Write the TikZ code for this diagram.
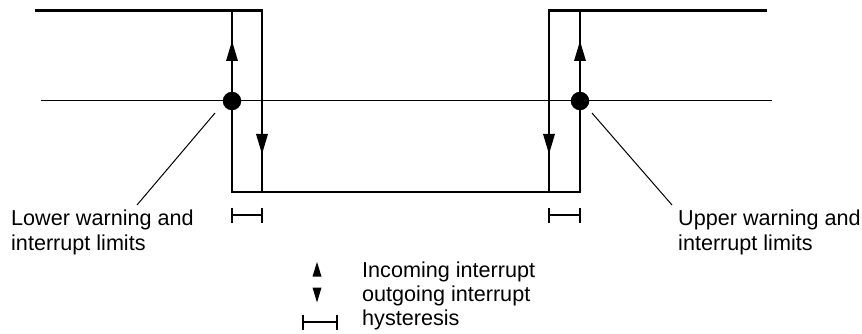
\documentclass[tikz,border=0pt]{standalone}
\usepackage{fontspec}
\setmainfont{Liberation Sans}
\begin{document}
\begin{tikzpicture}[x=1pt,y=-1pt,
  thick line/.style={line width=2.6pt},
  thin line/.style={line width=1pt},
  lbl/.style={anchor=base west,inner sep=0pt,font=\fontsize{21.6}{25}\selectfont},
  tip/.style={fill=black}]
\useasboundingbox (0,0) rectangle (862,334);
% coordinates
\coordinate (tl0) at (35,10.5);
\coordinate (tl1) at (262,10.5);
\coordinate (a) at (232,10.5);
\coordinate (ab) at (232,192);
\coordinate (bb) at (262,192);
\coordinate (cb) at (549,192);
\coordinate (db) at (580,192);
\coordinate (c) at (549,10.5);
\coordinate (tr1) at (767,10.5);
\coordinate (m0) at (41,101);
\coordinate (m1) at (772,101);
% threshold line
\draw[thin line] (m0) -- (m1);
% signal
\draw[thick line] (tl0) -- (tl1) -- (bb);
\draw[thick line] (a) -- (ab) -- (db) -- (580,10.5);
\draw[thick line] (cb) -- (c) -- (tr1);
% arrow heads
\fill[tip] (226,61) -- (232,41) -- (238,61) -- cycle;
\fill[tip] (574,61) -- (580,41) -- (586,61) -- cycle;
\fill[tip] (256,134) -- (262,154) -- (268,134) -- cycle;
\fill[tip] (543,134) -- (549,154) -- (555,134) -- cycle;
% dots
\node[circle,fill=black,minimum size=18.5pt,inner sep=0pt] (dl) at (232,101) {};
\node[circle,fill=black,minimum size=18.5pt,inner sep=0pt] (dr) at (580,101) {};
% leaders
\coordinate (ll) at (137,205);
\coordinate (lr) at (672,205);
\draw[thin line] (215,113) -- (ll);
\draw[thin line] (592,113) -- (lr);
% hysteresis markers
\draw[line width=1.6pt] (232,215) -- (262,215);
\draw[line width=1.6pt] (232,207.5) -- (232,223);
\draw[line width=1.6pt] (262,207.5) -- (262,223);
\draw[line width=1.6pt] (549,215) -- (580,215);
\draw[line width=1.6pt] (549,207.5) -- (549,223);
\draw[line width=1.6pt] (580,207.5) -- (580,223);
% labels
\node[lbl] (low1) at (11,225) {Lower warning and};
\node[lbl] (low2) at (11,250) {interrupt limits};
\node[lbl] (up1) at (678,225) {Upper warning and};
\node[lbl] (up2) at (678,250) {interrupt limits};
% legend
\fill[tip] (312.5,276.5) -- (317,262) -- (321.5,276.5) -- cycle;
\fill[tip] (312.5,287.5) -- (317,302.5) -- (321.5,287.5) -- cycle;
\draw[line width=1.6pt] (303,322) -- (337,322);
\draw[line width=1.6pt] (303,314.5) -- (303,330);
\draw[line width=1.6pt] (337,314.5) -- (337,330);
\node[lbl] (lg1) at (362,277) {Incoming interrupt};
\node[lbl] (lg2) at (362,301) {outgoing interrupt};
\node[lbl] (lg3) at (362,325) {hysteresis};
\end{tikzpicture}
\end{document}
